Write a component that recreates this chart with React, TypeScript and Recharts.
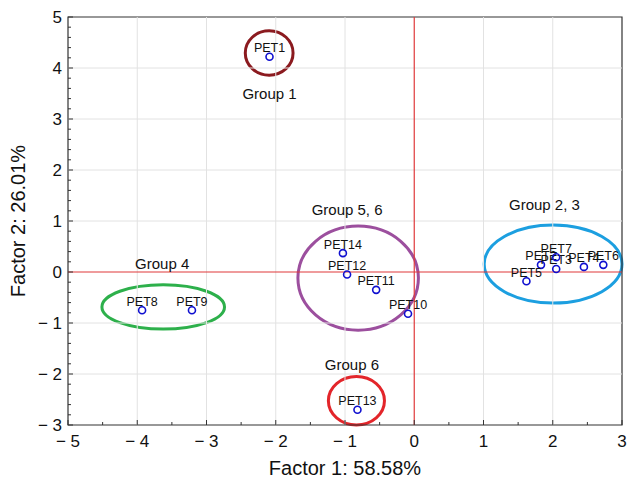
import { ScatterChart, Scatter, XAxis, YAxis, ReferenceLine, ReferenceArea } from 'recharts'

const FONT = '"Liberation Sans", Arial, Helvetica, sans-serif'

// sample scores
const PET_NAMES = ['PET1', 'PET2', 'PET3', 'PET4', 'PET5', 'PET6', 'PET7', 'PET8', 'PET9', 'PET10', 'PET11', 'PET12', 'PET13', 'PET14']
const FACTOR1 = [-2.09, 1.83, 2.05, 2.45, 1.62, 2.73, 2.05, -3.93, -3.21, -0.09, -0.55, -0.97, -0.82, -1.03]
const FACTOR2 = [4.22, 0.14, 0.06, 0.1, -0.18, 0.14, 0.29, -0.75, -0.75, -0.82, -0.35, -0.05, -2.7, 0.37]

// group labels
const GROUP_NAMES = ['Group 1', 'Group 5, 6', 'Group 2, 3', 'Group 4', 'Group 6']
const GROUP_X = [-2.09, -0.97, 1.88, -3.64, -0.9]
const GROUP_Y = [3.49, 1.22, 1.31, 0.16, -1.82]

// ellipses around the groups (bounding box in factor units)
const ELLIPSE_X1 = [-2.44, -1.68, 1.01, -4.51, -1.24]
const ELLIPSE_X2 = [-1.75, 0.06, 3.0, -2.74, -0.43]
const ELLIPSE_Y1 = [3.86, -1.14, -0.61, -1.12, -3.0]
const ELLIPSE_Y2 = [4.73, 0.9, 0.92, -0.25, -2.05]
const ELLIPSE_COLORS = ['#8b1a1f', '#9c4f9e', '#1c9fe0', '#2db04b', '#e3252a']

const X_TICKS = [-5, -4.5, -4, -3.5, -3, -2.5, -2, -1.5, -1, -0.5, 0, 0.5, 1, 1.5, 2, 2.5, 3]
const Y_TICKS = [
  -3, -2.8, -2.6, -2.4, -2.2, -2, -1.8, -1.6, -1.4, -1.2, -1, -0.8, -0.6, -0.4, -0.2, 0,
  0.2, 0.4, 0.6, 0.8, 1, 1.2, 1.4, 1.6, 1.8, 2, 2.2, 2.4, 2.6, 2.8, 3, 3.2, 3.4, 3.6, 3.8,
  4, 4.2, 4.4, 4.6, 4.8, 5,
]
const X_GRID = [-4, -3, -2, -1, 1, 2]
const Y_GRID = [-2, -1, 1, 2, 3, 4]

const points = PET_NAMES.map((name, i) => ({ name, x: FACTOR1[i], y: FACTOR2[i] }))
const groups = GROUP_NAMES.map((name, i) => ({ name, x: GROUP_X[i], y: GROUP_Y[i] }))

const fmt = (v: number) => (v < 0 ? `\u2212 ${Math.abs(v)}` : `${v}`)

const BottomTick = ({ x, y, payload }: any) => {
  const major = Number.isInteger(payload.value)
  return (
    <g>
      <line x1={x} x2={x} y1={y} y2={y - (major ? 5 : 3)} stroke="#333" />
      {major && (
        <text x={x} y={y + 22} textAnchor="middle" fontSize={17} fontFamily={FONT} fill="#111">
          {fmt(payload.value)}
        </text>
      )}
    </g>
  )
}

const TopTick = ({ x, y, payload }: any) => {
  const major = Number.isInteger(payload.value)
  return <line x1={x} x2={x} y1={y} y2={y + (major ? 5 : 3)} stroke="#333" />
}

const LeftTick = ({ x, y, payload }: any) => {
  const major = Number.isInteger(payload.value)
  return (
    <g>
      <line x1={x} x2={x + (major ? 5 : 3)} y1={y} y2={y} stroke="#333" />
      {major && (
        <text x={x - 6} y={y + 6} textAnchor="end" fontSize={17} fontFamily={FONT} fill="#111">
          {fmt(payload.value)}
        </text>
      )}
    </g>
  )
}

const RightTick = ({ x, y, payload }: any) => {
  const major = Number.isInteger(payload.value)
  return <line x1={x} x2={x - (major ? 5 : 3)} y1={y} y2={y} stroke="#333" />
}

const PointShape = ({ cx, cy, payload }: any) => (
  <g>
    <text x={cx} y={cy - 4.5} textAnchor="middle" fontSize={12.5} fontFamily={FONT} fill="#111">
      {payload.name}
    </text>
    <circle cx={cx} cy={cy} r={3.5} fill="none" stroke="#1010d0" strokeWidth={1.6} />
  </g>
)

const GroupLabel = ({ cx, cy, payload }: any) => (
  <text x={cx} y={cy + 5} textAnchor="middle" fontSize={15} fontFamily={FONT} fill="#111">
    {payload.name}
  </text>
)

const ellipseShape = (color: string) => (props: any) => {
  const { x, y, width, height } = props
  return (
    <ellipse
      cx={x + width / 2}
      cy={y + height / 2}
      rx={Math.abs(width) / 2}
      ry={Math.abs(height) / 2}
      fill="none"
      stroke={color}
      strokeWidth={3}
    />
  )
}

const YTitle = ({ viewBox }: any) => {
  const cx = viewBox.x + 18
  const cy = viewBox.y + viewBox.height / 2
  return (
    <text x={cx} y={cy} transform={`rotate(-90 ${cx} ${cy})`} textAnchor="middle" dominantBaseline="central" fontSize={20} fontFamily={FONT} fill="#111">
      Factor 2: 26.01%
    </text>
  )
}

const XTitle = ({ viewBox }: any) => (
  <text x={viewBox.x + viewBox.width / 2} y={viewBox.y + 50} textAnchor="middle" fontSize={20} fontFamily={FONT} fill="#111">
    Factor 1: 58.58%
  </text>
)

export default function App() {
  return (
    <div style={{ position: 'absolute', left: 0, top: 0, background: '#fff' }}>
      <ScatterChart width={627} height={481} margin={{ top: 17, right: 5, bottom: 6, left: 0 }}>
        <XAxis
          type="number"
          dataKey="x"
          domain={[-5, 3]}
          ticks={X_TICKS}
          interval={0}
          allowDataOverflow
          axisLine={false}
          tickLine={false}
          tickSize={0}
          tickMargin={0}
          height={50}
          tick={<BottomTick />}
          label={<XTitle />}
        />
        <XAxis
          xAxisId="top"
          orientation="top"
          type="number"
          dataKey="x"
          domain={[-5, 3]}
          ticks={X_TICKS}
          interval={0}
          axisLine={false}
          tickLine={false}
          tickSize={0}
          tickMargin={0}
          height={0}
          tick={<TopTick />}
        />
        <YAxis
          type="number"
          dataKey="y"
          domain={[-3, 5]}
          ticks={Y_TICKS}
          interval={0}
          allowDataOverflow
          axisLine={false}
          tickLine={false}
          tickSize={0}
          tickMargin={0}
          width={68}
          tick={<LeftTick />}
          label={<YTitle />}
        />
        <YAxis
          yAxisId="right"
          orientation="right"
          type="number"
          dataKey="y"
          domain={[-3, 5]}
          ticks={Y_TICKS}
          interval={0}
          axisLine={false}
          tickLine={false}
          tickSize={0}
          tickMargin={0}
          width={0}
          tick={<RightTick />}
        />

        {X_GRID.map((v) => (
          <ReferenceLine key={`gx${v}`} x={v} stroke="#e2e2e2" strokeWidth={1} />
        ))}
        {Y_GRID.map((v) => (
          <ReferenceLine key={`gy${v}`} y={v} stroke="#e2e2e2" strokeWidth={1} />
        ))}
        <ReferenceLine x={0} stroke="#e0393b" strokeWidth={1.2} />
        <ReferenceLine y={0} stroke="#e0393b" strokeWidth={1.2} />

        {GROUP_NAMES.map((g, i) => (
          <ReferenceArea
            key={g}
            x1={ELLIPSE_X1[i]}
            x2={ELLIPSE_X2[i]}
            y1={ELLIPSE_Y1[i]}
            y2={ELLIPSE_Y2[i]}
            ifOverflow="visible"
            shape={ellipseShape(ELLIPSE_COLORS[i])}
          />
        ))}

        <ReferenceArea x1={-5} x2={3} y1={-3} y2={5} fill="none" stroke="#333" strokeWidth={1.2} ifOverflow="visible" />

        <Scatter data={groups} shape={<GroupLabel />} isAnimationActive={false} />
        <Scatter data={points} shape={<PointShape />} isAnimationActive={false} />
      </ScatterChart>
    </div>
  )
}
